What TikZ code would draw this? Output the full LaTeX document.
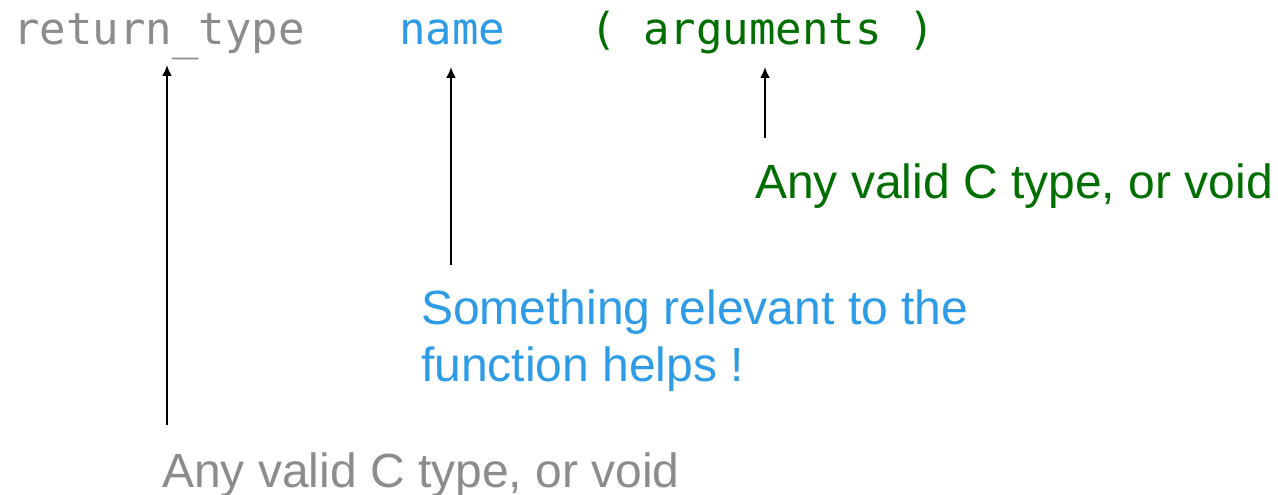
\documentclass[tikz,border=0pt]{standalone}
\usepackage{fontspec}
\setmainfont{Liberation Sans}
\newfontfamily\codefont{DejaVu Sans Mono}
\usetikzlibrary{arrows.meta}
\definecolor{typegrey}{RGB}{140,140,140}
\definecolor{nameblue}{RGB}{46,155,230}
\definecolor{arggreen}{RGB}{0,110,0}
\tikzset{
  code/.style={inner sep=0pt, anchor=base west, font=\codefont\fontsize{44}{53}\selectfont},
  note/.style={inner sep=0pt, font=\fontsize{48}{57}\selectfont},
  pointer/.style={line width=2pt, -{Latex[length=11pt,width=10pt]}}
}
\begin{document}
\begin{tikzpicture}[x=1pt,y=-1pt]
  \useasboundingbox (0,0) rectangle (1278,495);

  % the signature line
  \node[code, text=typegrey] (rt) at (13,45) {return\raisebox{-5pt}{\_}type};
  \node[code, text=nameblue] (nm) at (399,45) {name};
  \node[code, text=arggreen] (args) at (590,45) {( arguments )};

  % explanations
  \node[note, text=arggreen, anchor=base west] (argnote) at (755,198) {Any valid C type, or void};
  \node[note, text=nameblue, anchor=north west, align=left] (namenote) at (421,290)
    {Something relevant to the\\function helps !};
  \node[note, text=typegrey, anchor=base west] (rtnote) at (162,487) {Any valid C type, or void};

  % arrow ends
  \coordinate (rt-tip) at (167,65);
  \coordinate (rt-tail) at (167,425);
  \coordinate (nm-tip) at (451,67);
  \coordinate (nm-tail) at (451,265);
  \coordinate (args-tip) at (765,67);
  \coordinate (args-tail) at (765,138);

  \draw[pointer] (rt-tail) -- (rt-tip);
  \draw[pointer] (nm-tail) -- (nm-tip);
  \draw[pointer] (args-tail) -- (args-tip);
\end{tikzpicture}
\end{document}
